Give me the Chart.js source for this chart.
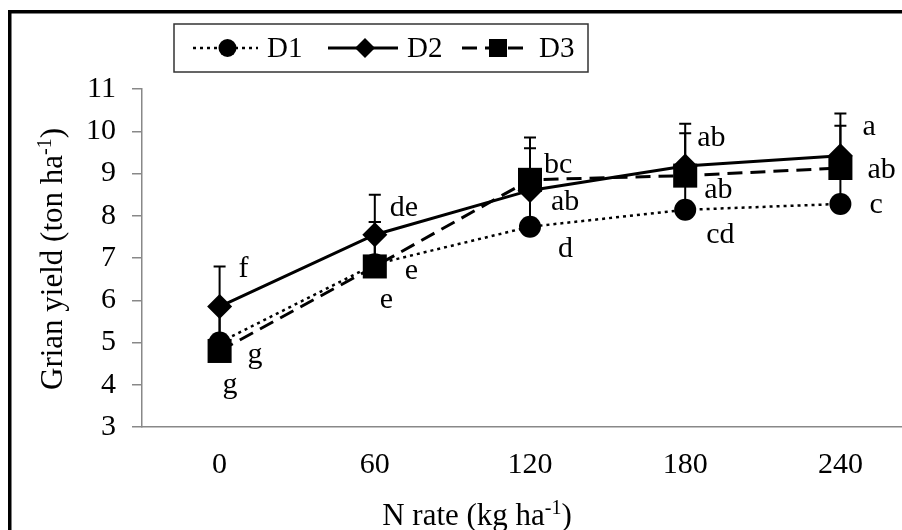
<!DOCTYPE html>
<html>
<head>
<meta charset="utf-8">
<script src="https://cdn.jsdelivr.net/npm/chart.js@4.4.1/dist/chart.umd.min.js"></script>
<style>
  html, body { margin: 0; padding: 0; background: #fff; overflow: hidden; width: 902px; height: 530px; }
</style>
</head>
<body>
<!-- the plot runs past the right edge of the picture, so the canvas is wider than the window -->
<canvas id="yieldChart" width="935" height="530"></canvas>
<script>
// N rates (kg/ha) on the x axis
const nRates = ["0", "60", "120", "180", "240"];

// grain yield (ton/ha) per treatment
const yieldD1 = [5.0, 6.85, 7.74, 8.14, 8.28];
const yieldD2 = [5.85, 7.55, 8.6, 9.18, 9.42];
const yieldD3 = [4.8, 6.8, 8.85, 8.95, 9.13];

// upper error bars
const errD1 = [0.9, 1.0, 0.9, 0.9, 0.9];
const errD2 = [0.95, 0.95, 1.0, 1.0, 1.0];
const errD3 = [1.0, 1.05, 1.0, 1.0, 1.0];

// significance letters
const lettersD1 = ["g", "e", "d", "cd", "c"];
const lettersD2 = ["f", "de", "ab", "ab", "a"];
const lettersD3 = ["g", "e", "bc", "ab", "ab"];

const yMin = 3, yMax = 11, yStep = 1;

const serif = "'Liberation Serif', 'Times New Roman', serif";

// where each letter sits relative to its point (px, baseline)
const letterOffsets = {
    D1: [[3, 50], [5, 44], [28, 30], [21, 33], [29, 9]],
    D2: [[19, -30], [15, -19], [21, 20], [12, -20], [22, -21]],
    D3: [[28, 12], [30, 13], [14, -7], [19, 22], [27, 10]]
};

const framePlugin = {
    id: "frame",
    beforeDraw(chart) {
        const ctx = chart.ctx;
        ctx.save();
        ctx.fillStyle = "#fff";
        ctx.fillRect(0, 0, chart.width, chart.height);
        ctx.fillStyle = "#000";
        ctx.fillRect(8, 10, chart.width, 3.5);
        ctx.fillRect(8, 10, 3.5, chart.height);
        ctx.restore();
    }
};

const errorBarPlugin = {
    id: "errorBars",
    beforeDatasetsDraw(chart) {
        const ctx = chart.ctx;
        const y = chart.scales.y;
        ctx.save();
        ctx.strokeStyle = "#000";
        ctx.lineWidth = 2;
        chart.data.datasets.forEach((ds, di) => {
            const meta = chart.getDatasetMeta(di);
            meta.data.forEach((pt, i) => {
                const top = y.getPixelForValue(ds.data[i] + ds.errors[i]);
                ctx.beginPath();
                ctx.moveTo(pt.x, pt.y);
                ctx.lineTo(pt.x, top);
                ctx.moveTo(pt.x - 6, top);
                ctx.lineTo(pt.x + 6, top);
                ctx.stroke();
            });
        });
        ctx.restore();
    }
};

const letterPlugin = {
    id: "letters",
    afterDatasetsDraw(chart) {
        const ctx = chart.ctx;
        ctx.save();
        ctx.fillStyle = "#000";
        ctx.font = "30px " + serif;
        ctx.textAlign = "left";
        ctx.textBaseline = "alphabetic";
        chart.data.datasets.forEach((ds, di) => {
            const meta = chart.getDatasetMeta(di);
            const offs = letterOffsets[ds.label];
            meta.data.forEach((pt, i) => {
                ctx.fillText(ds.letters[i], pt.x + offs[i][0], pt.y + offs[i][1]);
            });
        });
        ctx.restore();
    }
};

function drawMarker(ctx, style, x, y, r) {
    ctx.beginPath();
    if (style === "circle") {
        ctx.arc(x, y, r, 0, Math.PI * 2);
    } else if (style === "rectRot") {
        ctx.moveTo(x - r, y);
        ctx.lineTo(x, y - r);
        ctx.lineTo(x + r, y);
        ctx.lineTo(x, y + r);
        ctx.closePath();
    } else {
        ctx.rect(x - r, y - r, 2 * r, 2 * r);
    }
    ctx.fill();
}

// text with a "-1" superscript piece
function drawRich(ctx, parts, x, y) {
    const big = "31px " + serif, small = "20px " + serif;
    let w = 0;
    parts.forEach(p => { ctx.font = p.sup ? small : big; w += ctx.measureText(p.t).width; });
    let cx = x - w / 2;
    parts.forEach(p => {
        ctx.font = p.sup ? small : big;
        ctx.fillText(p.t, cx, p.sup ? y - 11 : y);
        cx += ctx.measureText(p.t).width;
    });
}

const decorPlugin = {
    id: "decor",
    afterDraw(chart) {
        const ctx = chart.ctx;
        ctx.save();
        ctx.fillStyle = "#000";
        ctx.textAlign = "left";
        ctx.textBaseline = "alphabetic";

        // axis titles
        drawRich(ctx, [{ t: "N rate (kg ha" }, { t: "-1", sup: true }, { t: ")" }], 477, 525);
        ctx.save();
        ctx.translate(62, 259);
        ctx.rotate(-Math.PI / 2);
        drawRich(ctx, [{ t: "Grian yield (ton ha" }, { t: "-1", sup: true }, { t: ")" }], 0, 0);
        ctx.restore();

        // legend
        ctx.fillStyle = "#fff";
        ctx.fillRect(174, 24, 414, 48);
        ctx.strokeStyle = "#333";
        ctx.lineWidth = 1.5;
        ctx.strokeRect(174, 24, 414, 48);

        const starts = [193, 328, 462];
        const lens = [65, 70, 68];
        const mr = [9, 10, 9];
        const ly = 48;
        chart.data.datasets.forEach((ds, i) => {
            const x0 = starts[i], x1 = starts[i] + lens[i];
            ctx.strokeStyle = "#000";
            ctx.lineWidth = ds.borderWidth;
            ctx.setLineDash(ds.borderDash || []);
            ctx.beginPath();
            ctx.moveTo(x0, ly);
            ctx.lineTo(x1, ly);
            ctx.stroke();
            ctx.setLineDash([]);
            ctx.fillStyle = "#000";
            drawMarker(ctx, ds.pointStyle, (x0 + x1) / 2 + 2, ly, mr[i]);
            ctx.font = "29px " + serif;
            ctx.fillText(ds.label, x1 + 9, 57);
        });
        ctx.restore();
    }
};

new Chart(document.getElementById("yieldChart").getContext("2d"), {
    type: "line",
    data: {
        labels: nRates,
        datasets: [
            {
                label: "D1",
                data: yieldD1,
                errors: errD1,
                letters: lettersD1,
                borderColor: "#000",
                backgroundColor: "#000",
                borderWidth: 2.5,
                borderDash: [3, 4],
                pointStyle: "circle",
                pointRadius: 11,
                pointBorderWidth: 0
            },
            {
                label: "D2",
                data: yieldD2,
                errors: errD2,
                letters: lettersD2,
                borderColor: "#000",
                backgroundColor: "#000",
                borderWidth: 3,
                pointStyle: "rectRot",
                pointRadius: 12.5,
                pointBorderWidth: 0
            },
            {
                label: "D3",
                data: yieldD3,
                errors: errD3,
                letters: lettersD3,
                borderColor: "#000",
                backgroundColor: "#000",
                borderWidth: 3,
                borderDash: [15, 8],
                pointStyle: "rect",
                pointRadius: 17,
                pointBorderWidth: 0
            }
        ]
    },
    options: {
        responsive: false,
        animation: false,
        devicePixelRatio: 1,
        layout: { padding: { top: 89, left: 0, right: 0, bottom: 0 } },
        plugins: {
            legend: { display: false },
            tooltip: { enabled: false }
        },
        scales: {
            x: {
                offset: true,
                grid: { display: false, drawTicks: false },
                border: { color: "#888", width: 1.5 },
                ticks: {
                    color: "#000",
                    padding: 20,
                    font: { family: serif, size: 30 }
                },
                afterFit(scale) { scale.height = 103; }
            },
            y: {
                min: yMin,
                max: yMax,
                grid: { drawOnChartArea: false, drawTicks: true, tickLength: 10, color: "#888", lineWidth: 1.5 },
                border: { color: "#888", width: 1.5 },
                ticks: {
                    stepSize: yStep,
                    color: "#000",
                    padding: 16,
                    font: { family: serif, size: 30 }
                },
                afterFit(scale) { scale.width = 142; }
            }
        }
    },
    plugins: [framePlugin, errorBarPlugin, letterPlugin, decorPlugin]
});
</script>
</body>
</html>
